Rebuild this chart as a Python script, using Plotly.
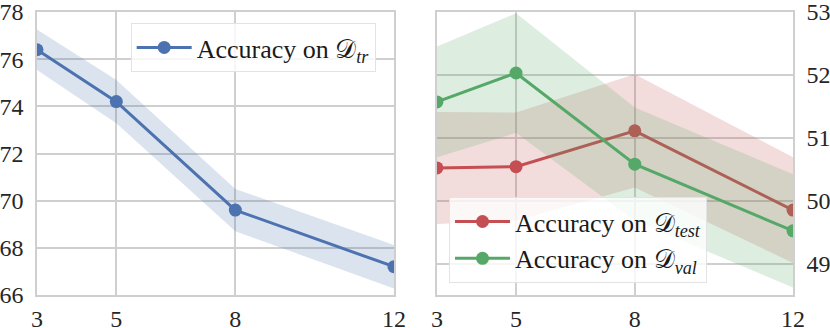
import plotly.graph_objects as go
from plotly.subplots import make_subplots

# data
num_tasks = [3, 5, 8, 12]
acc_tr = [76.4, 74.2, 69.6, 67.2]
std_tr = [0.86, 0.92, 0.90, 0.92]
acc_test = [50.52, 50.54, 51.11, 49.85]
std_test = [0.89, 0.86, 0.90, 0.84]
acc_val = [51.57, 52.03, 50.58, 49.52]
std_val = [0.88, 0.95, 0.90, 0.90]

COLORS = {
    "blue": "#4C72B0",
    "red": "#C44E52",
    "green": "#55A868",
    "grid": "#cfcfcf",
    "text": "#262626",
}
FONT = "Liberation Serif, Times New Roman, serif"


def hex_rgba(h, a):
    h = h.lstrip("#")
    return f"rgba({int(h[0:2], 16)},{int(h[2:4], 16)},{int(h[4:6], 16)},{a})"


def add_series(fig, col, x, y, s, color, name, legend):
    upper = [v + d for v, d in zip(y, s)]
    lower = [v - d for v, d in zip(y, s)]
    fig.add_trace(go.Scatter(
        x=x + x[::-1], y=upper + lower[::-1], fill="toself", mode="lines",
        fillcolor=hex_rgba(color, 0.2), line=dict(width=0),
        hoverinfo="skip", showlegend=False,
    ), row=1, col=col)
    fig.add_trace(go.Scatter(
        x=x, y=y, mode="lines+markers", name=name, legend=legend,
        line=dict(color=color, width=3),
        marker=dict(size=13, color=color),
    ), row=1, col=col)


fig = make_subplots(rows=1, cols=2)
add_series(fig, 1, num_tasks, acc_tr, std_tr, COLORS["blue"],
           "Accuracy on 𝒟<sub><i>tr</i></sub>", "legend")
add_series(fig, 2, num_tasks, acc_test, std_test, COLORS["red"],
           "Accuracy on 𝒟<sub><i>test</i></sub>", "legend2")
add_series(fig, 2, num_tasks, acc_val, std_val, COLORS["green"],
           "Accuracy on 𝒟<sub><i>val</i></sub>", "legend2")

axis_style = dict(
    showgrid=True, gridcolor=COLORS["grid"], gridwidth=1.5,
    showline=True, linecolor=COLORS["grid"], linewidth=1.5, mirror=True,
    zeroline=False, ticks="", automargin=False, ticklabeloverflow="allow",
    tickfont=dict(family=FONT, size=24, color=COLORS["text"]),
)
fig.update_xaxes(**axis_style, range=[3, 12], tickvals=num_tasks, ticklabelstandoff=1)
fig.update_layout(
    xaxis=dict(domain=[0, 0.4722]),
    xaxis2=dict(domain=[0.529, 1]),
    yaxis=dict(**axis_style, range=[66, 78], tickvals=[66, 68, 70, 72, 74, 76, 78],
               ticklabelstandoff=7),
    yaxis2=dict(**axis_style, range=[48.5, 53], tickvals=[49, 50, 51, 52, 53],
                side="right", ticklabelstandoff=7),
    width=830, height=328,
    margin=dict(l=37, r=37, t=12, b=33),
    paper_bgcolor="white", plot_bgcolor="white",
    font=dict(family=FONT, size=26, color=COLORS["text"]),
    legend=dict(
        x=0.448, y=0.961, xanchor="right", yanchor="top", itemwidth=55,
        bgcolor="rgba(255,255,255,0.8)", bordercolor="#e3e3e3", borderwidth=1,
        font=dict(family=FONT, size=26, color="#1a1a1a"),
    ),
    legend2=dict(
        x=0.545, y=0.042, xanchor="left", yanchor="bottom", itemwidth=55,
        bgcolor="rgba(255,255,255,0.8)", bordercolor="#e3e3e3", borderwidth=1,
        font=dict(family=FONT, size=26, color="#1a1a1a"),
    ),
)

# drop the browser's default body margin so the figure sits at (0, 0)
fig.write_html("out.html", config={"displayModeBar": False},
               post_script="document.body.style.margin='0';")
